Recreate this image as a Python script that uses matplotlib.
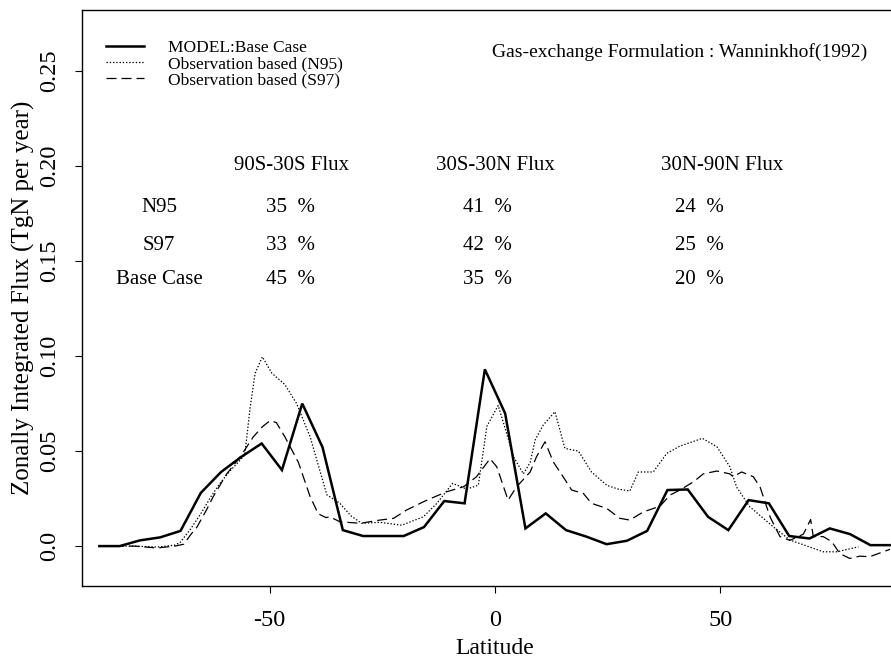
import matplotlib
matplotlib.use("Agg")
import matplotlib.pyplot as plt
from matplotlib.lines import Line2D

plt.rcParams['font.family'] = ['Liberation Serif', 'DejaVu Serif']

# ---------------- data ----------------
base_lat = [-87.75, -83.25, -78.75, -74.25, -69.75, -65.25, -60.75, -56.25, -51.75, -47.25,
            -42.75, -38.25, -33.75, -29.25, -24.75, -20.25, -15.75, -11.25, -6.75, -2.25,
            2.25, 6.75, 11.25, 15.75, 20.25, 24.75, 29.25, 33.75, 38.25, 42.75,
            47.25, 51.75, 56.25, 60.75, 65.25, 69.75, 74.25, 78.75, 83.25, 87.75]
base_flux = [0.0, 0.0, 0.003, 0.0046, 0.008, 0.028, 0.039, 0.047, 0.054, 0.040,
             0.075, 0.052, 0.0084, 0.0053, 0.0053, 0.0053, 0.010, 0.0237, 0.0225, 0.093,
             0.0698, 0.0093, 0.0172, 0.0084, 0.005, 0.001, 0.0028, 0.008, 0.0295, 0.0298,
             0.0154, 0.0084, 0.0242, 0.0225, 0.0053, 0.004, 0.0093, 0.0063, 0.0005, 0.0005]

n95_lat = [-87.75, -80, -75, -71, -69.8, -67.5, -65, -63, -61, -59, -57, -55.5, -54.3, -53.2,
           -51.6, -49.5, -46.6, -44, -41, -37.3, -34.4, -32, -29.6, -25.5, -20.7, -15.9,
           -12.9, -9.4, -6.3, -3.7, -1.8, 0.7, 2.5, 4.1, 6.3, 7.8, 8.9, 10.7, 13.3, 15.5,
           18.5, 21.4, 24.8, 27.3, 29.9, 31.8, 35.1, 38.1, 41, 46.0, 49.2, 52.1, 53.6, 56.5,
           61.7, 65.4, 72.8, 75.8, 80.6]
n95_flux = [0.0, 0.0, -0.0005, 0.0005, 0.002, 0.009, 0.018, 0.026, 0.033, 0.039, 0.044, 0.048, 0.073, 0.091,
            0.0996, 0.091, 0.085, 0.075, 0.0575, 0.027, 0.0225, 0.016, 0.012, 0.0125, 0.011, 0.0154,
            0.0225, 0.033, 0.030, 0.032, 0.063, 0.074, 0.060, 0.047, 0.038, 0.044, 0.0558, 0.0637, 0.0707, 0.0514,
            0.050, 0.039, 0.032, 0.030, 0.029, 0.039, 0.039, 0.0488, 0.0526, 0.0567, 0.0523, 0.0417, 0.031, 0.0207,
            0.0102, 0.0032, -0.003, -0.003, -0.0004]

s97_lat = [-87.75, -80, -75, -71, -69, -67.5, -66.1, -64, -62.5, -59.5, -56.5, -53.6, -51.5,
           -49.9, -48.5, -46.6, -43.6, -41, -39.2, -37.5, -36.6, -34.4, -29.9, -25.5, -22.5,
           -19.6, -15.9, -13.3, -10.7, -7.0, -4.1, -1.1, 0.4, 2.9, 4.8, 7.8, 9.2, 11.1, 12.9,
           15.1, 17.0, 19.6, 21.4, 24.8, 27.7, 29.9, 32.9, 36.6, 38.8, 41, 44.0, 46.2, 49.2,
           52.1, 52.8, 54.7, 57.3, 58.8, 61.0, 63.2, 65.4, 68.4, 70.0, 70.6, 72.8, 74.7, 76.5,
           78.7, 80.9, 83.1, 87.6]
s97_flux = [0.0, 0.0, -0.001, 0.0, 0.001, 0.006, 0.010, 0.019, 0.026, 0.038, 0.047, 0.0575, 0.063,
            0.066, 0.065, 0.0575, 0.044, 0.026, 0.017, 0.015, 0.0154, 0.0128, 0.012, 0.0137, 0.0146,
            0.019, 0.0233, 0.026, 0.0286, 0.0312, 0.0365, 0.046, 0.0417, 0.0242, 0.0312, 0.039, 0.047, 0.0549, 0.0444,
            0.0365, 0.0295, 0.0277, 0.0225, 0.0198, 0.0146, 0.0137, 0.018, 0.021, 0.0268, 0.0295, 0.0338, 0.038, 0.0395,
            0.038, 0.0365, 0.039, 0.0365, 0.031, 0.0154, 0.005, 0.003, 0.0063, 0.014, 0.005, 0.005, 0.0023, -0.004,
            -0.0065, -0.0053, -0.0056, -0.0017]

series_labels = ["MODEL:Base Case", "Observation based (N95)", "Observation based (S97)"]

region_headers = ["90S-30S Flux", "30S-30N Flux", "30N-90N Flux"]
row_labels = ["N95", "S97", "Base Case"]
pct_n95 = [35, 41, 24]
pct_s97 = [33, 42, 25]
pct_base = [45, 35, 20]

y_ticks = [0.0, 0.05, 0.10, 0.15, 0.20, 0.25]
y_ticklabels = ["0.0", "0.05", "0.10", "0.15", "0.20", "0.25"]
x_ticks = [-50, 0, 50]
x_ticklabels = ["-50", "0", "50"]

# ---------------- figure ----------------
W, H = 891, 659
fig = plt.figure(figsize=(W / 100, H / 100), dpi=100)
ax_left = 82 / W
ax_bottom = (H - 586) / H
ax_height = (586 - 10) / H
ax_width = 826 / W
ax = fig.add_axes([ax_left, ax_bottom, ax_width, ax_height])
ax.set_xlim(-91.6, 91.6)
ax.set_ylim(-0.021, 0.2821)

l1, = ax.plot(base_lat, base_flux, color='black', lw=1.8, solid_joinstyle='miter')
l2, = ax.plot(n95_lat, n95_flux, color='black', lw=0.9, linestyle=(0, (1.1, 1.5)))
l3, = ax.plot(s97_lat, s97_flux, color='black', lw=0.9, linestyle=(0, (8.0, 4.0)))

ax.spines['right'].set_visible(False)
for s in ['left', 'bottom', 'top']:
    ax.spines[s].set_linewidth(1.0)

ax.set_xticks(x_ticks)
ax.set_xticklabels(x_ticklabels)
ax.set_yticks(y_ticks)
ax.set_yticklabels(y_ticklabels, rotation=90, va='center')
ax.tick_params(axis='both', direction='out', length=5, width=0.8, labelsize=17.5)
ax.tick_params(axis='y', pad=11)
ax.tick_params(axis='x', pad=12)

ax.set_xlabel("Latitude", fontsize=17, labelpad=5)
ax.set_ylabel("Zonally Integrated Flux (TgN per year)", fontsize=18, labelpad=3)

leg = ax.legend([l1, l2, l3], series_labels, loc='upper left',
                bbox_to_anchor=(106 / W, 1 - 40 / H), bbox_transform=fig.transFigure,
                frameon=False, fontsize=12.5, handlelength=2.2, handletextpad=1.4,
                labelspacing=0.0, borderpad=0, borderaxespad=0)

fig.text(867 / W, 1 - 52 / H, "Gas-exchange Formulation : Wanninkhof(1992)",
         ha='right', va='center', fontsize=14)

# table of percentages
header_x = [292, 495.5, 722]
num_x = [291, 487.5, 699.6]
row_y = [207, 245, 280]
for hx, txt in zip(header_x, region_headers):
    fig.text(hx / W, 1 - 166 / H, txt, ha='center', va='center', fontsize=15)
for ry, lab, vals in zip(row_y, row_labels, [pct_n95, pct_s97, pct_base]):
    fig.text(159 / W, 1 - ry / H, lab, ha='center', va='center', fontsize=15)
    for nx, v in zip(num_x, vals):
        fig.text(nx / W, 1 - ry / H, f"{v}  %", ha='center', va='center', fontsize=15)

fig.savefig("out.png", dpi=100)
